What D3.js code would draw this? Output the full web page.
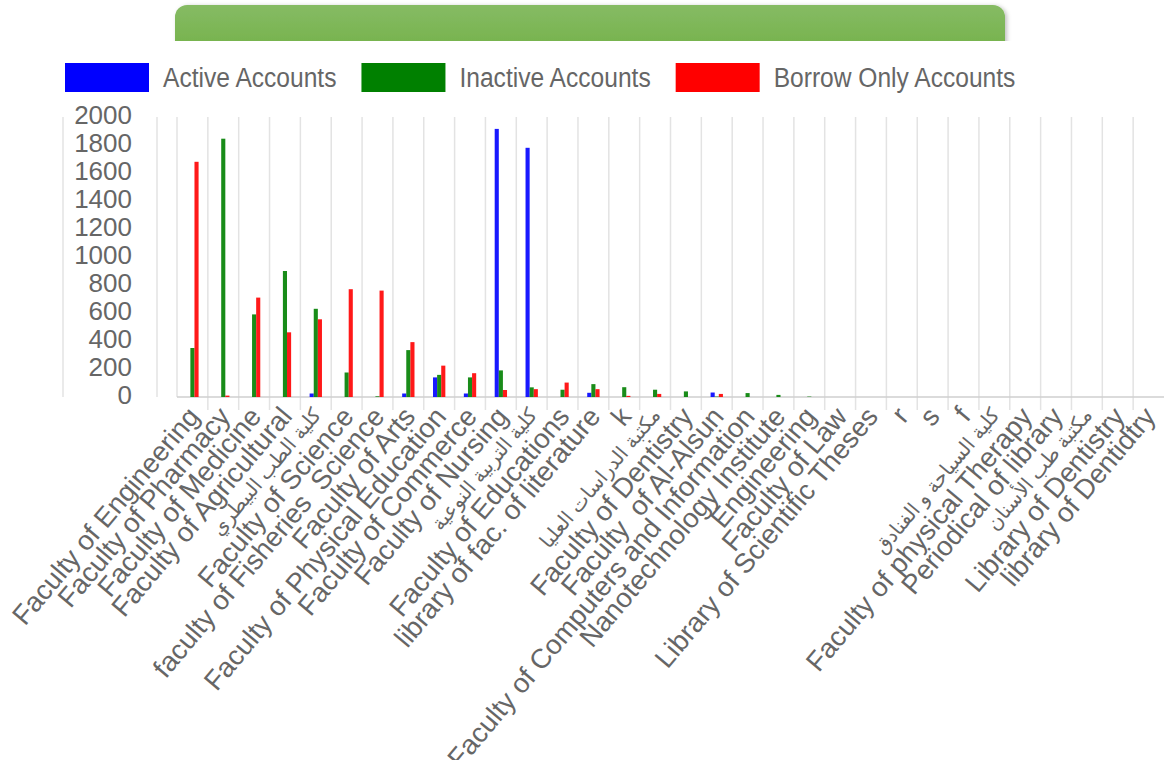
<!DOCTYPE html>
<html>
<head>
<meta charset="utf-8">
<script src="https://cdn.jsdelivr.net/npm/d3@7"></script>
<style>
  html, body { margin: 0; padding: 0; background: #fff; }
  svg { display: block; font-family: "Liberation Sans", Arial, "DejaVu Sans", sans-serif; }
  .xlab { white-space: pre; }
</style>
</head>
<body>
<div id="chart"></div>
<script>
const width = 1168;
const height = 760;

const categories = [
  "Faculty of Engineering", "Faculty of Pharmacy", "Faculty of Medicine", "Faculty of Agricultural",
  "كلية الطب البيطري", "Faculty of Science", "faculty of Fisheries  Science", "Faculty of Arts",
  "Faculty of Physical Education", "Faculty of Commerce", "Faculty of Nursing", "كلية التربية النوعية",
  "Faculty of Educations", "library of fac. of literature", "k", "مكتبة الدراسات العليا",
  "Faculty of Dentistry", "Faculty  of Al-Alsun", "Faculty of Computers and Information", "Nanotechnology Institute",
  "Engineering", "Faculty of Law", "Library of Scientific Theses", "r",
  "s", "f", "كلية السياحة و الفنادق", "Faculty of physical Therapy",
  "Periodical of library", "مكتبة طب الأسنان", "Library of Dentistry", "library of Dentidtry"
];

const activeAccounts = [0, 0, 0, 0, 25, 0, 0, 25, 140, 25, 1915, 1780, 0, 30, 0, 0,
  0, 32, 0, 0, 0, 0, 0, 0, 0, 0, 0, 0, 0, 0, 0, 0];
const inactiveAccounts = [350, 1845, 590, 900, 630, 175, 5, 335, 158, 140, 190, 69, 52, 92, 70, 52,
  40, 3, 28, 15, 3, 0, 0, 0, 0, 0, 0, 0, 0, 0, 0, 0];
const borrowOnlyAccounts = [1680, 10, 710, 462, 555, 770, 760, 392, 224, 170, 50, 56, 103, 56, 8, 22,
  0, 22, 0, 0, 0, 0, 0, 0, 0, 0, 0, 0, 0, 0, 0, 0];

const seriesNames = ["Active Accounts", "Inactive Accounts", "Borrow Only Accounts"];
const seriesColors = ["#0000ff", "#008000", "#ff0000"];
const yTicks = d3.range(0, 2001, 200);

const series = [activeAccounts, inactiveAccounts, borrowOnlyAccounts];

const svg = d3.select("#chart")
  .append("svg")
  .attr("width", width)
  .attr("height", height);

const defs = svg.append("defs");
const grad = defs.append("linearGradient")
  .attr("id", "title-grad")
  .attr("x1", 0).attr("y1", 0).attr("x2", 0).attr("y2", 1);
grad.append("stop").attr("offset", "0%").attr("stop-color", "#86bb64");
grad.append("stop").attr("offset", "100%").attr("stop-color", "#6faf42");

const shadow = defs.append("filter").attr("id", "shadow")
  .attr("x", "-5%").attr("y", "-20%").attr("width", "110%").attr("height", "140%");
shadow.append("feDropShadow")
  .attr("dx", 2).attr("dy", 1).attr("stdDeviation", 2)
  .attr("flood-color", "#000").attr("flood-opacity", 0.25);

// title bar, cut off by the chart panel below it
svg.append("rect")
  .attr("x", 175).attr("y", 5)
  .attr("width", 830).attr("height", 60)
  .attr("rx", 12)
  .attr("fill", "url(#title-grad)")
  .attr("filter", "url(#shadow)");

svg.append("rect")
  .attr("x", 0).attr("y", 41)
  .attr("width", width).attr("height", height - 41)
  .attr("fill", "#fff");

// scales
const x = d3.scaleBand()
  .domain(categories)
  .range([177, 1164])
  .padding(0);

const x1 = d3.scaleBand()
  .domain(seriesNames)
  .range([x.bandwidth() * 0.3, x.bandwidth() * 0.7]);

const y = d3.scaleLinear()
  .domain([0, 2000])
  .range([397, 117]);

// grid
const grid = svg.append("g").attr("stroke", "#e3e3e3").attr("stroke-width", 1.5);

[63, 157].forEach(gx => {
  grid.append("line")
    .attr("x1", gx).attr("x2", gx)
    .attr("y1", y(2000)).attr("y2", y(0));
});

grid.selectAll("line.cat")
  .data(categories)
  .join("line")
  .attr("class", "cat")
  .attr("x1", d => x(d))
  .attr("x2", d => x(d))
  .attr("y1", y(2000))
  .attr("y2", (d, i) => i === 0 ? y(0) : y(0) + 13);

svg.append("line")
  .attr("x1", x.range()[0]).attr("x2", x.range()[1])
  .attr("y1", y(0)).attr("y2", y(0))
  .attr("stroke", "#cfcfcf")
  .attr("stroke-width", 1.5);

// y axis labels
const yAxis = d3.axisLeft(y)
  .tickValues(yTicks)
  .tickFormat(d3.format("d"))
  .tickSize(0)
  .tickPadding(0);

const yAxisG = svg.append("g")
  .attr("transform", "translate(132,-2)")
  .call(yAxis);
yAxisG.select(".domain").remove();
yAxisG.selectAll("text")
  .attr("fill", "#666")
  .style("font-size", "26px")
  .style("font-family", "'Liberation Sans', Arial, sans-serif");

// bars
const groups = svg.append("g")
  .selectAll("g")
  .data(categories)
  .join("g")
  .attr("transform", d => `translate(${x(d)},0)`);

groups.selectAll("rect")
  .data((d, i) => series.map((s, j) => ({ key: seriesNames[j], value: s[i], color: seriesColors[j] })))
  .join("rect")
  .attr("x", d => x1(d.key))
  .attr("width", x1.bandwidth())
  .attr("y", d => y(d.value))
  .attr("height", d => y(0) - y(d.value))
  .attr("fill", d => d.color)
  .attr("fill-opacity", 0.9);

// x labels (arabic ones come out smaller in the original)
const isArabic = s => /[\u0600-\u06FF]/.test(s);

svg.append("g")
  .selectAll("text")
  .data(categories)
  .join("text")
  .attr("class", "xlab")
  .attr("transform", d => `translate(${x(d) + x.bandwidth() / 2 + 1},${y(0) + 14}) rotate(-50)`)
  .attr("text-anchor", "end")
  .attr("dy", "0.35em")
  .attr("fill", "#666")
  .style("font-size", d => isArabic(d) ? "20px" : "27.5px")
  .text(d => d);

// legend
const legend = svg.append("g").attr("transform", "translate(65,63)");
let lx = 0;
seriesNames.forEach((name, i) => {
  legend.append("rect")
    .attr("x", lx).attr("y", 0)
    .attr("width", 84).attr("height", 29)
    .attr("fill", seriesColors[i]);
  const t = legend.append("text")
    .attr("x", lx + 98)
    .attr("y", 14.5)
    .attr("dy", "0.35em")
    .attr("fill", "#666")
    .style("font-size", "27px")
    .text(name);
  const w = t.node().getComputedTextLength() * 0.91;
  t.attr("textLength", w).attr("lengthAdjust", "spacingAndGlyphs");
  lx += 98 + w + 25;
});
</script>
</body>
</html>
